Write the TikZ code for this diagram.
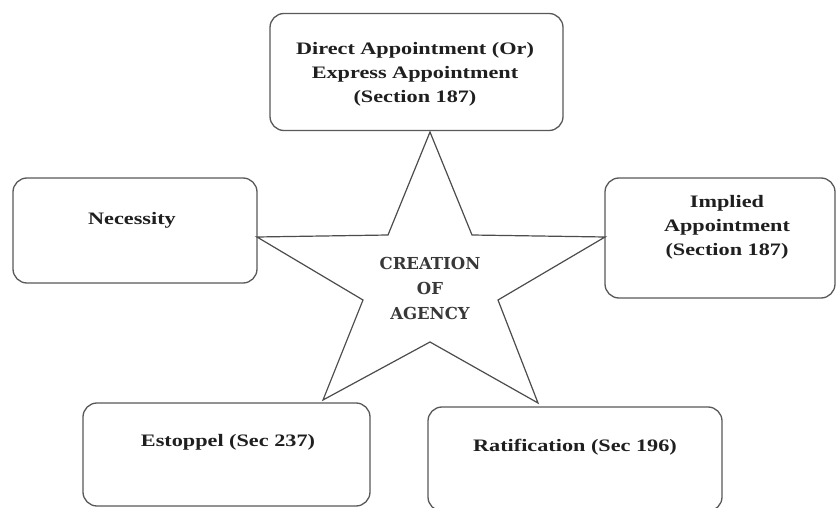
\documentclass[tikz,border=0pt]{standalone}
\usepackage{fontspec}
\setmainfont{Liberation Serif}
\newfontfamily\boxfont[FakeStretch=1.27]{Liberation Serif}
\newfontfamily\starfont{DejaVu Serif}
\begin{document}
\begin{tikzpicture}[x=1pt,y=-1pt,
  box/.style={draw=black!65,line width=1.3pt,rounded corners=14pt,fill=white,inner sep=0pt},
  boxtext/.style={font=\boxfont\fontsize{17.5}{24}\selectfont\bfseries,text=black!88,align=center,inner sep=0pt},
  startext/.style={font=\starfont\fontsize{16.5}{25}\selectfont\bfseries,text=black!78,align=center,inner sep=0pt}]
\useasboundingbox (0,0) rectangle (836,508);
\fill[white] (0,0) rectangle (836,508);

% surrounding boxes
\node[box,minimum width=293pt,minimum height=117pt] (direct) at (416.5,72) {};
\node[box,minimum width=244pt,minimum height=105pt] (nec) at (135,230.5) {};
\node[box,minimum width=230pt,minimum height=120pt] (impl) at (720,238) {};
\node[box,minimum width=287pt,minimum height=103pt] (est) at (226.5,454.5) {};
\node[box,minimum width=294pt,minimum height=104pt] (rat) at (575,459) {};

% box captions
\node[boxtext] (directT) at (415,74) {Direct Appointment (Or)\\Express Appointment\\(Section 187)};
\node[boxtext] (necT) at (132,220) {Necessity};
\node[boxtext] (implT) at (727,227) {Implied\\Appointment\\(Section 187)};
\node[boxtext] (estT) at (228,442) {Estoppel (Sec 237)};
\node[boxtext] (ratT) at (575,447) {Ratification (Sec 196)};

% star outline
\coordinate (sTop) at (430,132);
\coordinate (sUR) at (472,235);
\coordinate (sR) at (605,237);
\coordinate (sLR) at (498,300);
\coordinate (sBR) at (538,403);
\coordinate (sB) at (430,342);
\coordinate (sBL) at (323,400);
\coordinate (sLL) at (363,300);
\coordinate (sL) at (257,237);
\coordinate (sUL) at (388,235);
\draw[black!70,line width=1.2pt,line join=miter,fill=white]
  (sTop) -- (sUR) -- (sR) -- (sLR) -- (sBR) -- (sB) -- (sBL) -- (sLL) -- (sL) -- (sUL) -- cycle;

\node[startext] (centre) at (430,288) {CREATION\\OF\\AGENCY};
\end{tikzpicture}
\end{document}
